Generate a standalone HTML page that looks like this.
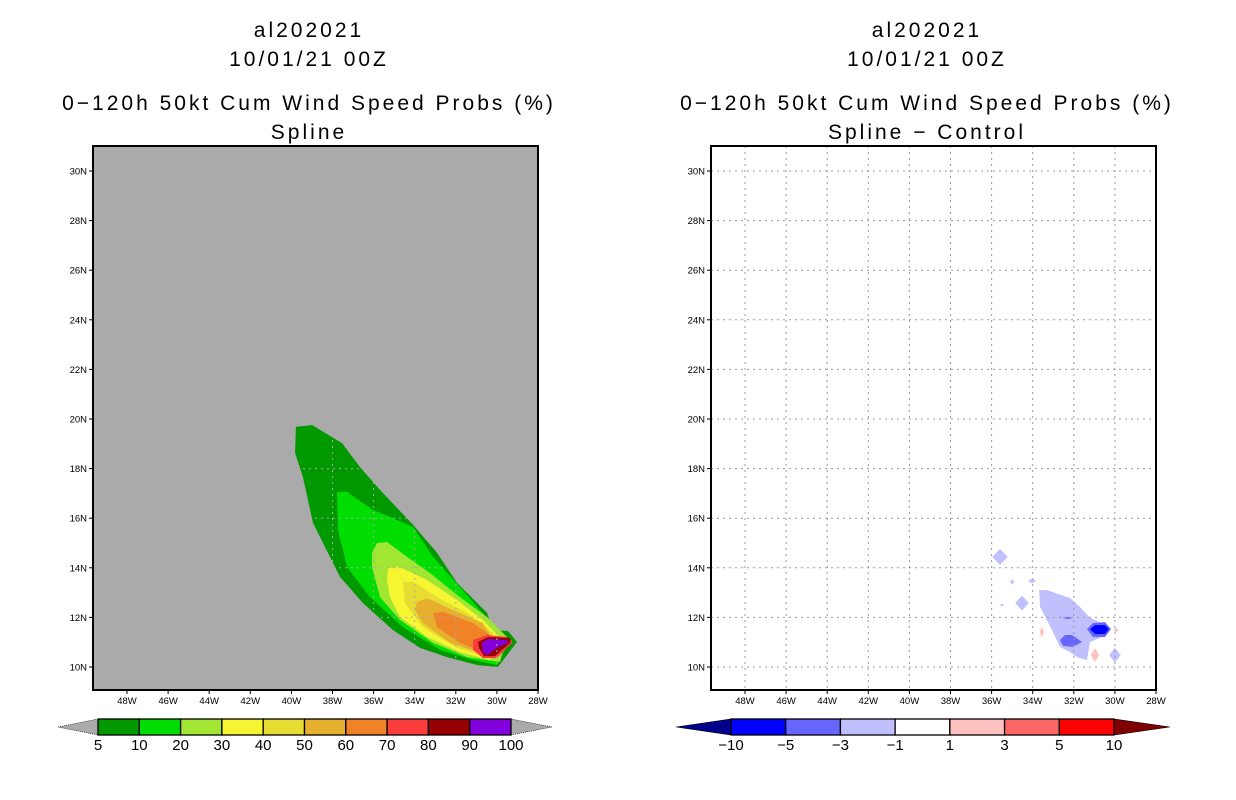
<!DOCTYPE html>
<html><head><meta charset="utf-8"><style>
body{margin:0;background:#fff;}
svg{display:block;font-family:"Liberation Sans",sans-serif;}
.t{font-size:21px;text-anchor:middle;fill:#000;letter-spacing:3px;}
.tk{font-size:9.5px;fill:#000;}
.cb{font-size:15px;text-anchor:middle;fill:#000;}
</style></head><body>
<svg id="s" width="1236" height="800" viewBox="0 0 1236 800">
<g>
<text class="t" x="309" y="37">al202021</text>
<text class="t" x="309" y="66">10/01/21 00Z</text>
<text class="t" x="309" y="110">0−120h 50kt Cum Wind Speed Probs (%)</text>
<text class="t" x="309" y="139">Spline</text></g>
<g>
<text class="t" x="927" y="37">al202021</text>
<text class="t" x="927" y="66">10/01/21 00Z</text>
<text class="t" x="927" y="110">0−120h 50kt Cum Wind Speed Probs (%)</text>
<text class="t" x="927" y="139">Spline − Control</text></g>
<g id="L"></g><g id="R"></g><g id="CB"></g>
</svg>
<script>
// axis ticks
const lonTicks=[48,46,44,42,40,38,36,34,32,30,28];
const latTicks=[10,12,14,16,18,20,22,24,26,28,30];
// left panel probability contours [lonW, lat]
const probLevels=[5,10,20,30,40,50,60,70,80,90];
const probColors=['#009900','#00dd00','#a0e632','#f5f532','#e6dc32','#e6af2d','#f08228','#fa3c3c','#960000','#8200dc'];
const c5=[[39.78,19.68],[39.0,19.76],[37.54,19.03],[36.66,18.06],[35.69,17.14],[34.08,15.73],[32.91,14.6],[31.94,13.39],[30.48,12.18],[30.19,11.49],[29.46,11.45],[29.02,11.01],[29.95,10.0],[30.97,10.08],[32.43,10.4],[33.74,10.77],[35.06,11.49],[36.52,12.58],[37.63,13.63],[38.46,15.0],[38.95,15.81],[39.44,17.66],[39.82,18.63]];
const c10=[[37.78,17.06],[37.29,17.06],[36.03,16.33],[35.2,16.05],[34.08,15.65],[33.11,14.44],[31.8,13.23],[30.82,12.3],[30.0,11.49],[29.36,11.09],[30.0,10.08],[31.16,10.28],[32.77,10.69],[34.57,11.61],[36.18,12.82],[37.29,14.03],[37.73,15.52]];
const c20=[[35.83,15.0],[35.35,15.04],[34.37,14.44],[33.26,13.79],[31.8,12.82],[30.48,12.02],[29.51,11.21],[29.85,10.2],[31.45,10.4],[33.11,10.97],[34.72,11.9],[35.69,12.82],[36.08,14.03],[36.08,14.6]];
const c30=[[35.3,13.99],[34.72,14.03],[33.4,13.51],[31.94,12.7],[30.68,11.9],[29.75,11.09],[30.34,10.28],[31.8,10.6],[33.4,11.21],[34.72,12.02],[35.2,12.82],[35.35,13.51]];
const c40=[[34.57,13.43],[34.08,13.43],[32.91,12.82],[31.45,12.18],[30.19,11.37],[30.48,10.4],[31.94,10.77],[33.6,11.61],[34.47,12.58]];
const c50=[[33.89,12.62],[33.4,12.78],[32.14,12.3],[30.68,11.77],[30.19,11.09],[30.82,10.56],[32.28,10.97],[33.6,11.77],[33.99,12.3]];
const c60=[[33.11,12.18],[32.62,12.22],[31.16,11.77],[30.19,11.21],[30.68,10.6],[31.8,10.97],[32.91,11.61]];
const c70=[[31.16,11.09],[30.48,11.29],[29.51,11.21],[29.22,11.01],[30.0,10.36],[30.68,10.36],[31.16,10.69]];
const c80=[[30.92,11.01],[30.43,11.21],[29.36,11.17],[29.36,10.97],[30.1,10.44],[30.63,10.44],[30.87,10.77]];
const c90=[[30.73,10.97],[30.43,11.13],[29.51,11.09],[29.46,10.97],[30.0,10.77],[30.48,10.48],[30.68,10.6]];
const probContours=[c5,c10,c20,c30,c40,c50,c60,c70,c80,c90];
// right panel difference contours
const diffLight=[[33.69,13.1],[33.3,13.1],[32.18,12.78],[31.7,12.42],[31.21,11.98],[30.73,11.81],[30.38,11.69],[30.73,11.17],[31.21,11.01],[31.36,10.28],[31.85,10.4],[32.18,10.6],[32.67,10.81],[33.06,11.49],[33.64,12.42]];
const diffMid1=[[31.36,11.53],[31.07,11.77],[30.48,11.81],[30.19,11.53],[30.48,11.21],[31.07,11.21]];
const diffDark=[[31.21,11.53],[30.97,11.69],[30.48,11.69],[30.29,11.53],[30.48,11.33],[30.97,11.33]];
const diffMid2=[[32.67,11.09],[32.43,11.29],[32.09,11.29],[31.6,11.01],[32.04,10.81],[32.52,10.85]];
// diamonds: [lonW, lat, halfLon, halfLat, value]
const diffSpots=[[35.59,14.44,0.38,0.32,-2],[35.0,13.43,0.12,0.1,-2],[34.03,13.47,0.2,0.1,-2],[34.52,12.58,0.33,0.3,-2],[35.5,12.5,0.1,0.06,-2],[30.0,10.48,0.28,0.3,-2],[32.3,11.98,0.25,0.05,-4],[33.55,11.41,0.1,0.22,2],[30.97,10.48,0.2,0.28,2],[29.95,11.49,0.12,0.1,2]];
const cbLeftLabels=['5','10','20','30','40','50','60','70','80','90','100'];
const cbRightLabels=['−10','−5','−3','−1','1','3','5','10'];
const cbRightColors=['#0000ff','#6666ff','#c0c0ff','#ffffff','#ffc0c0','#ff6666','#ff0000'];

const NS='http://www.w3.org/2000/svg';
function mk(p,tag,at){const e=document.createElementNS(NS,tag);for(const k in at)e.setAttribute(k,at[k]);p.appendChild(e);return e;}
const PX0=93,PX1=538,PY0=146,PY1=690;
function xs(off){return lon=>off+127+(48-lon)*20.55;}
function ys(lat){return 667-(lat-10)*24.8;}
function poly(g,pts,x,fill){return mk(g,'polygon',{points:pts.map(p=>x(p[0]).toFixed(1)+','+ys(p[1]).toFixed(1)).join(' '),fill:fill});}

function panel(gid,off,bg,gridCol){
  const g=document.getElementById(gid);const x=xs(off);
  const r=mk(g,'rect',{x:PX0+off,y:PY0,width:PX1-PX0,height:PY1-PY0,fill:bg});
  
  
  const sh=mk(g,'g',{});
  
  
  const gr=mk(g,'g',{stroke:gridCol,'stroke-width':1,'stroke-dasharray':'2,4'});
  
  
  const ax=mk(g,'g',{});
  
  
  lonTicks.forEach(l=>{const xx=x(l);
    if(l>28)mk(gr,'line',{x1:xx,x2:xx,y1:PY0,y2:PY1});
    mk(ax,'line',{x1:xx,x2:xx,y1:PY1,y2:PY1+4,stroke:'#000'});
    const t=mk(ax,'text',{x:xx,y:PY1+14,class:'tk','text-anchor':'middle'});t.textContent=l+'W';});
  latTicks.forEach(l=>{const yy=ys(l);
    mk(gr,'line',{x1:PX0+off,x2:PX1+off,y1:yy,y2:yy});
    mk(ax,'line',{x1:PX0+off-4,x2:PX0+off,y1:yy,y2:yy,stroke:'#000'});
    const t=mk(ax,'text',{x:PX0+off-6,y:yy+3.5,class:'tk','text-anchor':'end'});t.textContent=l+'N';});
  mk(ax,'rect',{x:PX0+off,y:PY0,width:PX1-PX0,height:PY1-PY0,fill:'none',stroke:'#000','stroke-width':2});
  return {sh,x};
}
const L=panel('L',0,'#aaaaaa','#aaaaaa');
probContours.forEach((c,i)=>{const p=poly(L.sh,c,L.x,probColors[i]);
  
  });
const R=panel('R',618,'#ffffff','#999999');
function dfill(v){return v<=-5?'#0000ff':v<=-3?'#6666ff':v<0?'#c0c0ff':v<3?'#ffc0c0':'#ff6666';}
[[diffLight,-2,'diff-light-blue'],[diffMid1,-4,'diff-mid-blue-1'],[diffDark,-6,'diff-dark-blue'],[diffMid2,-4,'diff-mid-blue-2']].forEach(d=>{
  const p=poly(R.sh,d[0],R.x,dfill(d[1]));
  
  });
diffSpots.forEach(s=>{
  const p=poly(R.sh,[[s[0]-s[2],s[1]],[s[0],s[1]+s[3]],[s[0]+s[2],s[1]],[s[0],s[1]-s[3]]],R.x,dfill(s[4]));
  
  });

// colorbars
const cb=document.getElementById('CB');
const lb=mk(cb,'g',{});


const x0=98,x1=511,w=(x1-x0)/probColors.length,cy0=719,cy1=735;
mk(lb,'polygon',{points:`58,727 ${x0},${cy0} ${x0},${cy1}`,fill:'#aaaaaa',stroke:'#000','stroke-width':0.6,'stroke-dasharray':'1,1'});
mk(lb,'polygon',{points:`552,727 ${x1},${cy0} ${x1},${cy1}`,fill:'#aaaaaa',stroke:'#000','stroke-width':0.6,'stroke-dasharray':'1,1'});
probColors.forEach((c,i)=>mk(lb,'rect',{x:x0+i*w,y:cy0,width:w,height:cy1-cy0,fill:c,stroke:'#000','stroke-width':1.3}));
cbLeftLabels.forEach((t,i)=>{const e=mk(lb,'text',{x:x0+i*w,y:750,class:'cb'});e.textContent=t;});
const rb=mk(cb,'g',{});


const r0=731,r1=1114,rw=(r1-r0)/cbRightColors.length;
mk(rb,'polygon',{points:`676,727 ${r0},${cy0} ${r0},${cy1}`,fill:'#00008b',stroke:'#000','stroke-width':0.6});
mk(rb,'polygon',{points:`1170,727 ${r1},${cy0} ${r1},${cy1}`,fill:'#800000',stroke:'#000','stroke-width':0.6});
cbRightColors.forEach((c,i)=>mk(rb,'rect',{x:r0+i*rw,y:cy0,width:rw,height:cy1-cy0,fill:c,stroke:'#000','stroke-width':1.3}));
cbRightLabels.forEach((t,i)=>{const e=mk(rb,'text',{x:r0+i*rw,y:750,class:'cb'});e.textContent=t;});
</script>
</body></html>
